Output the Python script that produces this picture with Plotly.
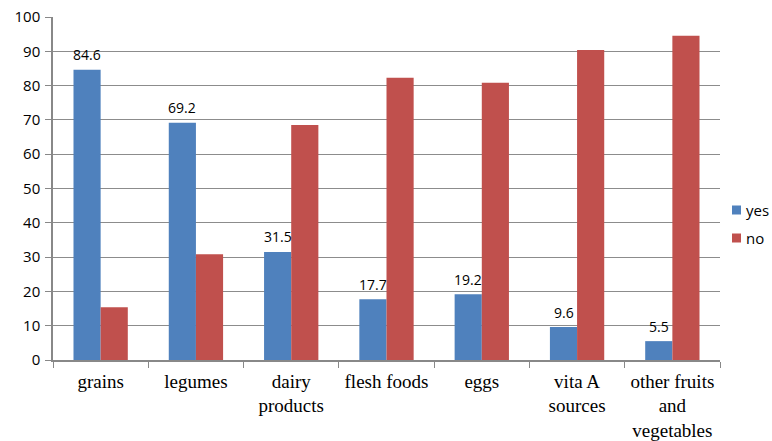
import plotly.graph_objects as go

categories = ["grains", "legumes", "dairy<br>products", "flesh foods", "eggs",
              "vita A<br>sources", "other fruits<br>and<br>vegetables"]
yes_vals = [84.6, 69.2, 31.5, 17.7, 19.2, 9.6, 5.5]
no_vals = [15.4, 30.8, 68.5, 82.3, 80.8, 90.4, 94.5]
series_names = ["yes", "no"]

BLUE = "#4f81bd"
RED = "#c0504d"
colors = [BLUE, RED]

W, H = 772, 441
L, R, T, B = 53, 52, 17, 81
pw, ph = W - L - R, H - T - B

fig = go.Figure()
for name, vals, col in zip(series_names, [yes_vals, no_vals], colors):
    fig.add_trace(go.Bar(x=categories, y=vals, name=name, marker_color=col,
                         marker_line_width=0, showlegend=False))

# value labels above the "yes" bars
for c, v in zip(categories, yes_vals):
    fig.add_annotation(x=c, y=v, text=f"{v}", showarrow=False, xshift=-13.5,
                       yshift=15, font=dict(family="Open Sans, Arial", size=14,
                                            color="#000"))

# compact legend at the right of the plot area
for i, (name, col) in enumerate(zip(series_names, colors)):
    cy = 210 + 28 * i
    fig.add_shape(type="rect", xref="paper", yref="paper",
                  x0=(732 - L) / pw, x1=(741 - L) / pw,
                  y0=(H - B - cy - 4.5) / ph, y1=(H - B - cy + 4.5) / ph,
                  fillcolor=col, line_width=0)
    fig.add_annotation(xref="paper", yref="paper", x=(744 - L) / pw,
                       y=(H - B - cy) / ph, xanchor="left", yanchor="middle",
                       text=name, showarrow=False,
                       font=dict(family="Open Sans, Arial", size=15, color="#000"))

fig.update_layout(
    width=W, height=H,
    margin=dict(l=L, r=R, t=T, b=B, autoexpand=False),
    paper_bgcolor="white", plot_bgcolor="white",
    barmode="group", bargap=0.43, bargroupgap=0,
    showlegend=False,
    xaxis=dict(showline=True, linecolor="#888", linewidth=1.5, ticks="outside",
               tickson="boundaries", ticklen=6, tickcolor="#888",
               ticklabelstandoff=3,
               tickfont=dict(family="Liberation Serif, Times New Roman", size=19,
                             color="#000")),
    yaxis=dict(range=[0, 100], dtick=10, showgrid=True, gridcolor="#8c8c8c",
               gridwidth=1, showline=True, linecolor="#888", linewidth=1.5,
               ticks="outside", ticklen=6, tickcolor="#888", zeroline=False,
               ticklabelstandoff=2,
               tickfont=dict(family="Open Sans, Arial", size=15, color="#000")),
)

fig.write_html("out.html")
